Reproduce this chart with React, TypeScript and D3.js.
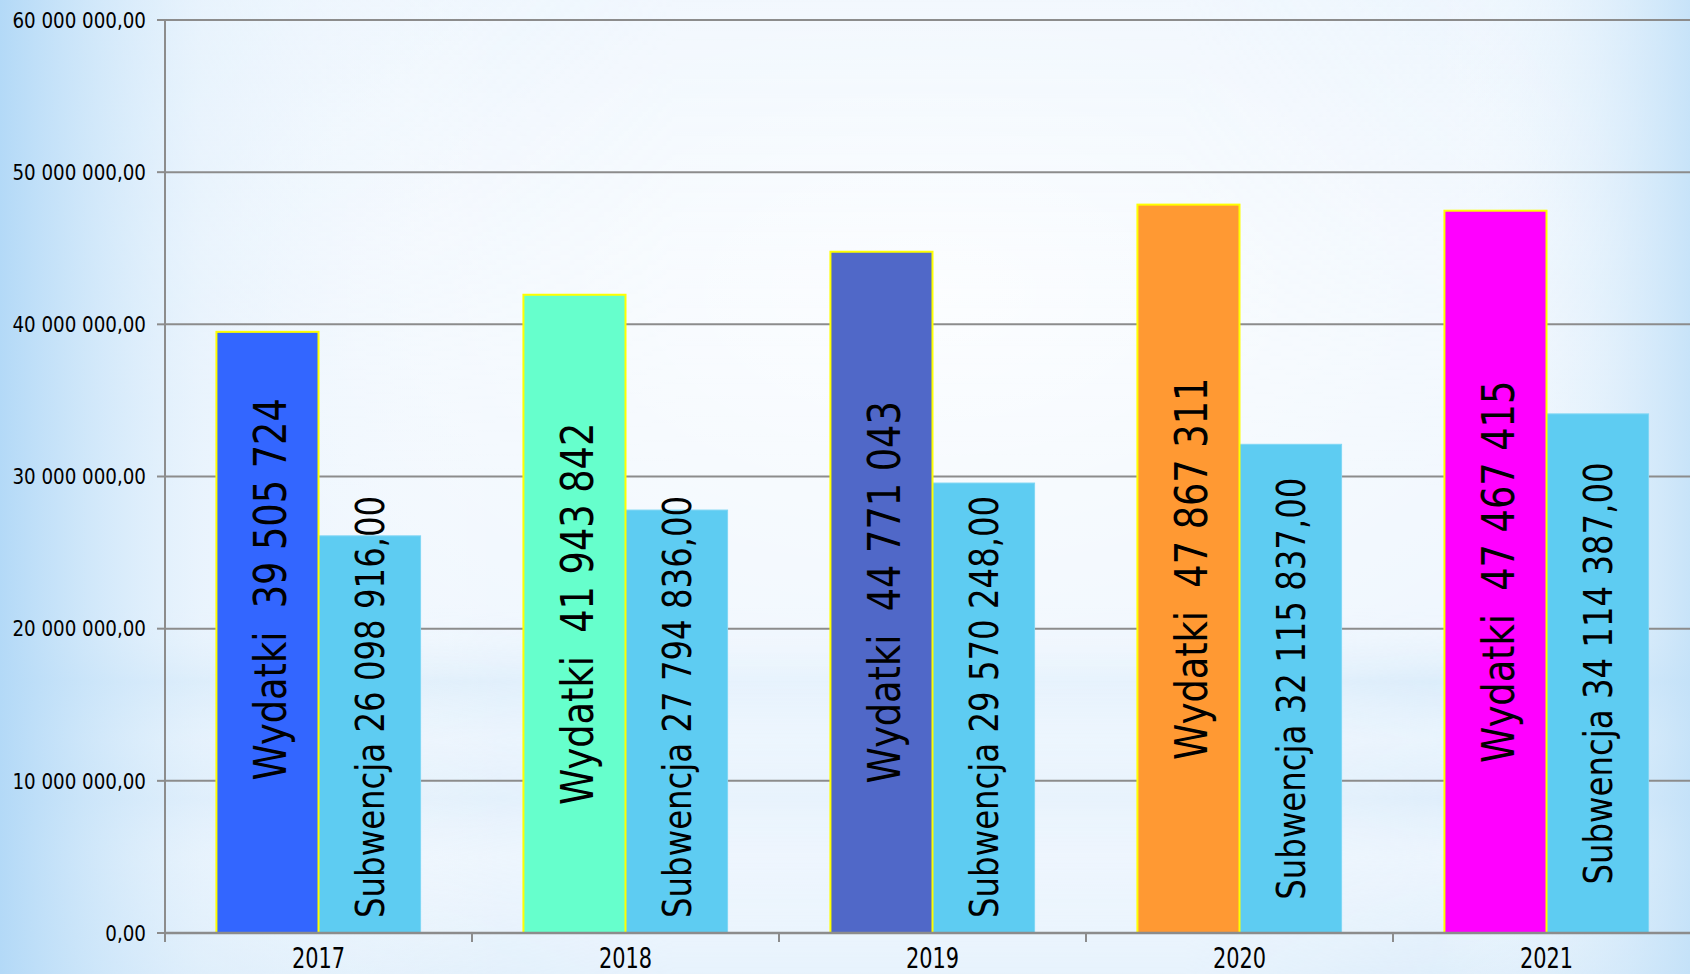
import React, { useRef, useEffect } from "react";
import * as d3 from "d3";

const years = ["2017", "2018", "2019", "2020", "2021"];
const wydatki = [39505724, 41943842, 44771043, 47867311, 47467415];
const subwencja = [26098916, 27794836, 29570248, 32115837, 34114387];
const wydatkiColors = ["#3366FF", "#66FFCC", "#5068C8", "#FF9933", "#FF00FF"];
const subwencjaColor = "#5ECCF2";
const yTicks = [0, 10000000, 20000000, 30000000, 40000000, 50000000, 60000000];

const W = 1690;
const H = 974;
const FONT = "'DejaVu Sans', Verdana, sans-serif";

const pl = d3.formatLocale({
  decimal: ",",
  thousands: " ",
  grouping: [3],
  currency: ["", " zł"],
});
const fmt2 = pl.format(",.2f");
const fmt0 = pl.format(",.0f");

const addStops = (grad, stops) =>
  stops.forEach(([o, c, a]) =>
    grad.append("stop").attr("offset", o).attr("stop-color", c).attr("stop-opacity", a)
  );

const App = () => {
  const ref = useRef(null);

  useEffect(() => {
    document.body.style.margin = "0";
    const svg = d3.select(ref.current);
    svg.selectAll("*").remove(); // Clear previous render

    const left = 165;
    const top = 20;
    const bottom = 933;
    const right = left + 307 * years.length; // plot runs past the right edge

    // background
    const defs = svg.append("defs");
    const hg = defs.append("linearGradient").attr("id", "hg");
    addStops(hg, [
      [0, "#b3d9f7", 1],
      [0.05, "#c9e4f9", 0.85],
      [0.12, "#e4f1fc", 0.55],
      [0.3, "#ffffff", 0],
      [0.85, "#ffffff", 0],
      [0.94, "#dbedfb", 0.5],
      [1, "#c3e1f8", 0.9],
    ]);
    const vg = defs
      .append("linearGradient")
      .attr("id", "vg")
      .attr("x1", 0)
      .attr("y1", 0)
      .attr("x2", 0)
      .attr("y2", 1);
    addStops(vg, [
      [0, "#e6f3fd", 0.4],
      [0.5, "#ffffff", 0],
      [0.62, "#ffffff", 0],
      [0.7, "#b9dcf6", 0.7],
      [0.76, "#d6ebfb", 0.45],
      [0.82, "#bcdcf6", 0.6],
      [0.88, "#dcedfb", 0.35],
      [1, "#c2e0f7", 0.7],
    ]);
    // fade the lower band towards the middle of the picture
    const mg = defs.append("linearGradient").attr("id", "mg");
    addStops(mg, [
      [0, "#ffffff", 1],
      [0.18, "#ffffff", 0.55],
      [0.4, "#ffffff", 0.25],
      [0.7, "#ffffff", 0.25],
      [0.9, "#ffffff", 0.6],
      [1, "#ffffff", 1],
    ]);
    defs
      .append("mask")
      .attr("id", "bandMask")
      .append("rect")
      .attr("width", W)
      .attr("height", H)
      .attr("fill", "url(#mg)");
    const rg = defs
      .append("radialGradient")
      .attr("id", "rg")
      .attr("cx", 0.55)
      .attr("cy", 0.3)
      .attr("r", 0.45);
    rg.append("stop").attr("offset", 0).attr("stop-color", "#ffffff").attr("stop-opacity", 0.8);
    rg.append("stop").attr("offset", 1).attr("stop-color", "#ffffff").attr("stop-opacity", 0);

    svg.append("rect").attr("width", W).attr("height", H).attr("fill", "#f0f7fe");
    svg.append("rect").attr("width", W).attr("height", H).attr("fill", "url(#rg)");
    svg
      .append("rect")
      .attr("width", W)
      .attr("height", H)
      .attr("fill", "url(#vg)")
      .attr("mask", "url(#bandMask)");
    svg.append("rect").attr("width", W).attr("height", H).attr("fill", "url(#hg)");

    const y = d3.scaleLinear().domain([0, 60000000]).range([bottom, top]);
    const x0 = d3
      .scaleBand()
      .domain(years)
      .range([left, right])
      .paddingInner(0.335)
      .paddingOuter(0.1675);
    const x1 = d3
      .scaleBand()
      .domain(["w", "s"])
      .range([0, x0.bandwidth()]);

    // gridlines
    svg
      .append("g")
      .selectAll("line")
      .data(yTicks.filter((d) => d > 0))
      .enter()
      .append("line")
      .attr("x1", left)
      .attr("x2", right)
      .attr("y1", (d) => y(d))
      .attr("y2", (d) => y(d))
      .attr("stroke", "#8c8c8c")
      .attr("stroke-width", 2);

    // y axis
    const ya = svg.append("g");
    ya.append("line")
      .attr("x1", left)
      .attr("x2", left)
      .attr("y1", top)
      .attr("y2", bottom + 8)
      .attr("stroke", "#8c8c8c")
      .attr("stroke-width", 2);
    ya.selectAll(".tk")
      .data(yTicks)
      .enter()
      .append("line")
      .attr("x1", left - 8)
      .attr("x2", left)
      .attr("y1", (d) => y(d))
      .attr("y2", (d) => y(d))
      .attr("stroke", "#8c8c8c")
      .attr("stroke-width", 2);
    ya.selectAll(".lb")
      .data(yTicks)
      .enter()
      .append("g")
      .attr("transform", (d) => `translate(146,${y(d) + 7.8}) scale(0.85,1)`)
      .append("text")
      .attr("text-anchor", "end")
      .attr("font-family", FONT)
      .attr("font-size", 21.5)
      .attr("fill", "#000")
      .text((d) => fmt2(d));

    // bars
    const groups = svg
      .append("g")
      .selectAll("g")
      .data(years)
      .enter()
      .append("g")
      .attr("transform", (d) => `translate(${x0(d)},0)`);

    groups
      .append("rect")
      .attr("x", x1("s"))
      .attr("width", x1.bandwidth())
      .attr("y", (d, i) => y(subwencja[i]))
      .attr("height", (d, i) => bottom - y(subwencja[i]))
      .attr("fill", subwencjaColor)
      .attr("stroke", "#7fd6f4")
      .attr("stroke-width", 1);

    groups
      .append("rect")
      .attr("x", x1("w"))
      .attr("width", x1.bandwidth())
      .attr("y", (d, i) => y(wydatki[i]))
      .attr("height", (d, i) => bottom - y(wydatki[i]))
      .attr("fill", (d, i) => wydatkiColors[i])
      .attr("stroke", "#FFFF00")
      .attr("stroke-width", 2);

    // x axis
    svg
      .append("line")
      .attr("x1", left)
      .attr("x2", right)
      .attr("y1", bottom)
      .attr("y2", bottom)
      .attr("stroke", "#8c8c8c")
      .attr("stroke-width", 2.5);
    svg
      .append("g")
      .selectAll("line")
      .data(years)
      .enter()
      .append("line")
      .attr("x1", (d) => x0(d) - x0.step() * x0.paddingOuter())
      .attr("x2", (d) => x0(d) - x0.step() * x0.paddingOuter())
      .attr("y1", bottom)
      .attr("y2", bottom + 9)
      .attr("stroke", "#8c8c8c")
      .attr("stroke-width", 2);
    svg
      .append("g")
      .selectAll("g")
      .data(years)
      .enter()
      .append("g")
      .attr("transform", (d) => `translate(${x0(d) + x0.bandwidth() / 2},968) scale(0.76,1)`)
      .append("text")
      .attr("text-anchor", "middle")
      .attr("font-family", FONT)
      .attr("font-size", 27.5)
      .attr("fill", "#000")
      .text((d) => d);

    // vertical labels inside the bars
    const nudge = { "2017": -43 };
    const wScale = 0.834;
    const sScale = 0.83;

    groups.each(function (d, i) {
      const g = d3.select(this);
      // Wydatki
      const wx = x1("w") + x1.bandwidth() / 2 + 3;
      const wy = (y(wydatki[i]) + bottom) / 2 + (nudge[d] || 0);
      g.append("g")
        .attr("transform", `translate(${wx},${wy}) rotate(-90) scale(${wScale},1)`)
        .append("text")
        .attr("text-anchor", "middle")
        .attr("dy", "0.36em")
        .attr("font-family", FONT)
        .attr("font-size", 44)
        .attr("fill", "#000")
        .style("white-space", "pre")
        .text(`Wydatki  ${fmt0(wydatki[i])}`);

      // Subwencja
      const sx = x1("s") + x1.bandwidth() / 2;
      const st = g
        .append("g")
        .append("text")
        .attr("text-anchor", "middle")
        .attr("dy", "0.36em")
        .attr("font-family", FONT)
        .attr("font-size", 39)
        .attr("fill", "#000")
        .text(`Subwencja ${fmt2(subwencja[i])}`);
      const len = st.node().getComputedTextLength() * sScale;
      const sy = Math.min((y(subwencja[i]) + bottom) / 2, bottom - 15 - len / 2);
      d3.select(st.node().parentNode).attr(
        "transform",
        `translate(${sx},${sy}) rotate(-90) scale(${sScale},1)`
      );
    });
  }, []);

  return (
    <svg
      ref={ref}
      width={W}
      height={H}
      style={{ position: "absolute", left: 0, top: 0, display: "block" }}
    />
  );
};

export default App;
